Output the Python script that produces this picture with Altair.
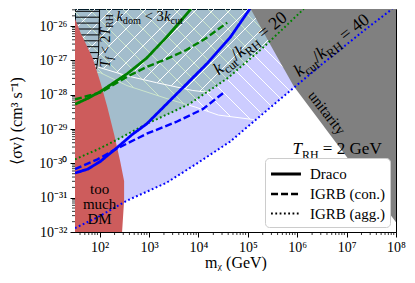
import numpy as np
import pandas as pd
import altair as alt

SERIF = "Liberation Serif"

# ---------------- values ----------------
KINDS = ["Draco", "IGRB (con.)", "IGRB (agg.)"]
CASES = ["20", "40"]          # k_cut / k_RH

# k_cut/k_RH = 20 (green)
m_draco20 = [31.6, 57.3, 104, 180, 358, 893, 2234, 4436, 7015]
s_draco20 = [5.28e-29, 7.85e-29, 1.245e-28, 2.11e-28, 4.08e-28, 1.17e-27, 4.68e-27, 1.435e-26, 3.16e-26]
m_con20 = [31.6, 104, 358, 893, 2234, 5572, 13930, 38190]
s_con20 = [7.35e-29, 1.164e-28, 3.35e-28, 6.47e-28, 1.096e-27, 1.986e-27, 4.38e-27, 1.26e-26]
m_agg20 = [31.6, 90.6, 226, 893, 6400, 39900, 217000, 1356000]
s_agg20 = [1.315e-30, 2.54e-30, 4.92e-30, 1.413e-29, 5.28e-29, 3.13e-28, 2.58e-27, 3.16e-26]

# k_cut/k_RH = 40 (blue)
m_draco40 = [31.6, 57.3, 104, 226, 450, 893, 3530, 15280, 43800, 109400]
s_draco40 = [5.22e-31, 6.81e-31, 1.153e-30, 2.90e-30, 6.84e-30, 1.413e-29, 1.021e-28, 8.43e-28, 4.68e-27, 3.16e-26]
m_con40 = [31.6, 90.6, 226, 893, 3530, 12160, 34800]
s_con40 = [6.81e-31, 1.315e-30, 2.72e-30, 7.31e-30, 1.61e-29, 3.80e-29, 1.245e-28]
m_agg40 = [31.6, 90.6, 358, 2234, 8830, 43750, 150700, 857000, 3.39e6, 2.11e7, 8.36e7]
s_agg40 = [1.30e-32, 2.69e-32, 8.25e-32, 2.70e-31, 9.46e-31, 4.31e-30, 1.96e-29, 1.62e-28, 8.43e-28, 6.95e-27, 3.16e-26]

# "too much DM" boundary
s_dm = [1.64e-26, 6.10e-27, 1.17e-27, 2.25e-28, 4.34e-29, 6.84e-30, 1.153e-30, 3.08e-31, 8.25e-32, 1e-32]
m_dm = [31.6, 41.6, 72.1, 104, 143, 197, 260, 312, 312, 284]

# unitarity boundary
m_unit = [114600, 313000, 857000, 5.86e6, 1e8]
s_unit = [3.16e-26, 2.26e-27, 1.73e-28, 4.31e-30, 1.93e-32]

# k_dom < 3 k_cut boundaries (20 and 40)
m_kdom20 = [31.6, 90.6, 358, 1413, 7690, 17500]
s_kdom20 = [9.61e-28, 6.47e-28, 3.57e-28, 2.25e-28, 1.33e-28, 1.164e-28]
m_kdom40 = [31.6, 104, 358, 2565, 8830, 25300, 150700]
s_kdom40 = [5.68e-28, 4.36e-28, 1.85e-28, 7.35e-29, 4.34e-29, 2.56e-29, 1.84e-29]

# T_f < 2 T_RH boundary
m_tf = [99.3, 99.3, 94.8, 86.5]
s_tf = [3.16e-26, 6.10e-27, 1.63e-27, 5.68e-28]

x_tick_exps = [2, 3, 4, 5, 6, 7, 8]
y_tick_exps = [-32, -31, -30, -29, -28, -27, -26]

# annotation anchors (mass, sigma v, angle)
ann = {
    "tf": (160, 3.7e-27, 270),
    "kdom": (1026, 1.45e-26, 0),
    "k20": (130000, 2.40e-27, 321),
    "k40": (5.8e6, 2.1e-27, 322),
    "unit": (4.0e6, 3.0e-29, 52),
    "dm": (99.3, 1.82e-31, 0),
    "trh": (6.43e6, 1.83e-30, 0),
}

# ---------------- geometry ----------------
W, H = 321, 223
LX0, LX1 = 1.5, 8.0
LY0, LY1 = -32.0, -25.5
SX = W / (LX1 - LX0)
SY = H / (LY1 - LY0)
M_MIN, S_TOP = 10 ** LX0, 10 ** LY1


def to_uv(m, s):
    return (np.log10(m) - LX0) * SX, (np.log10(s) - LY0) * SY


def to_ms(u, v):
    return 10 ** (LX0 + u / SX), 10 ** (LY0 + v / SY)


def curve_fn(ms, ss, right):
    u, v = to_uv(np.array(ms, float), np.array(ss, float))
    return lambda uu: np.interp(uu, u, v, right=right)


def diag_hatch(direction, spacing, lower_fns):
    u = np.arange(0, W + 0.25, 0.25)
    low = np.max([f(u) for f in lower_fns], axis=0)
    rows = []
    for c in np.arange(-W - 3, W + H, spacing):
        v = direction * u + c
        inside = (v >= low) & (v <= H) & (v >= 0)
        edges = np.flatnonzero(np.diff(np.concatenate([[0], inside.astype(int), [0]])))
        for a, b in zip(edges[::2], edges[1::2]):
            if b - 1 > a:
                m1, s1 = to_ms(u[a], v[a])
                m2, s2 = to_ms(u[b - 1], v[b - 1])
                rows.append(dict(m=m1, s=s1, m2=m2, s2=s2))
    return pd.DataFrame(rows)


fG = curve_fn(m_agg20, s_agg20, 1e9)
fB = curve_fn(m_agg40, s_agg40, 1e9)
fA20 = curve_fn(m_kdom20, s_kdom20, -1e9)
fA40 = curve_fn(m_kdom40, s_kdom40, -1e9)

hatch20 = diag_hatch(+1, 17, [fA20, fG])
hatch40 = diag_hatch(-1, 17, [fA40, fB])

# horizontal hatch of the T_f < 2T_RH region
ut, vt = to_uv(np.array(m_tf), np.array(s_tf))
order = np.argsort(vt)
rows = []
v = H - 2.3
while v >= vt.min():
    uk = np.interp(v, vt[order], ut[order])
    m2, s2 = to_ms(uk, v)
    rows.append(dict(m=M_MIN, s=s2, m2=m2, s2=s2))
    v -= 5.9
hatch_tf = pd.DataFrame(rows)

# ---------------- encodings ----------------
SUPS = str.maketrans("-0123456789", "⁻⁰¹²³⁴⁵⁶⁷⁸⁹")


def label_expr(exps):
    parts = [f"datum.value < {3 * 10.0 ** e:.3e} ? '10{str(e).translate(SUPS)}'" for e in exps]
    return " : ".join(parts) + " : ''"


common_axis = dict(grid=False, tickSize=5, tickWidth=1, tickColor="black", domainColor="black",
                   domainWidth=1, labelFont=SERIF, labelFontSize=14, labelColor="black",
                   labelFlush=False, labelOverlap=False, titleFont=SERIF, titleFontSize=16,
                   titleFontWeight="normal", titleColor="black")
xaxis = alt.Axis(values=[10.0 ** e for e in x_tick_exps], labelExpr=label_expr(x_tick_exps),
                 title="mᵪ (GeV)", labelPadding=3, titleY=35, titleBaseline="alphabetic",
                 **common_axis)
yaxis = alt.Axis(values=[10.0 ** e for e in y_tick_exps], labelExpr=label_expr(y_tick_exps),
                 title="⟨σv⟩ (cm³ s⁻¹)", labelPadding=3, titleX=-59, titleAngle=270,
                 titleBaseline="middle", **common_axis)
xscale = alt.Scale(type="log", domain=[M_MIN, 10 ** LX1], nice=False)
yscale = alt.Scale(type="log", domain=[10 ** LY0, S_TOP], nice=False)
X = alt.X("m:Q", scale=xscale, axis=xaxis)
Y = alt.Y("s:Q", scale=yscale, axis=yaxis)


def df_of(ms, ss):
    return pd.DataFrame({"m": ms, "s": ss, "top": S_TOP, "left": M_MIN})


layers = []
# lavender (k_cut/k_RH = 40 excluded) region
layers.append(alt.Chart(df_of(m_agg40, s_agg40)).mark_area(color="blue", opacity=0.2, clip=True)
              .encode(x=X, y=Y, y2="top:Q"))
layers.append(alt.Chart(hatch40).mark_rule(color="white", strokeWidth=1, clip=True)
              .encode(x=X, y=Y, x2="m2:Q", y2="s2:Q"))
layers.append(alt.Chart(df_of(m_kdom40, s_kdom40)).mark_line(color="white", strokeWidth=1, clip=True)
              .encode(x=X, y=Y))
# teal (k_cut/k_RH = 20 excluded) region
layers.append(alt.Chart(df_of(m_agg20, s_agg20)).mark_area(color="green", opacity=0.2, clip=True)
              .encode(x=X, y=Y, y2="top:Q"))
layers.append(alt.Chart(hatch20).mark_rule(color="white", strokeWidth=1, clip=True)
              .encode(x=X, y=Y, x2="m2:Q", y2="s2:Q"))
layers.append(alt.Chart(df_of(m_kdom20, s_kdom20)).mark_line(color="white", strokeWidth=1, clip=True)
              .encode(x=X, y=Y))
# T_f < 2 T_RH hatch
layers.append(alt.Chart(hatch_tf).mark_rule(color="black", strokeWidth=1, clip=True)
              .encode(x=X, y=Y, x2="m2:Q", y2="s2:Q"))
layers.append(alt.Chart(df_of(m_tf, s_tf)).mark_line(color="black", strokeWidth=1, clip=True)
              .encode(x=X, y=Y))
# unitarity
layers.append(alt.Chart(df_of(m_unit, s_unit)).mark_area(color="#808080", opacity=1, clip=True)
              .encode(x=X, y=Y, y2="top:Q"))
# too much DM
layers.append(alt.Chart(df_of(m_dm, s_dm)).mark_area(color="#cd5c5c", opacity=1, orient="horizontal", clip=True)
              .encode(x=X, x2="left:Q", y=Y))

# minor ticks
x_minor = [k * 10.0 ** d for d in range(1, 8) for k in range(2, 10) if M_MIN <= k * 10.0 ** d <= 10 ** LX1]
y_minor = [k * 10.0 ** d for d in range(-32, -25) for k in range(2, 10) if k * 10.0 ** d <= S_TOP]
layers.append(alt.Chart(pd.DataFrame({"m": x_minor})).mark_rule(color="black", strokeWidth=0.8)
              .encode(x=X, y=alt.value(H), y2=alt.value(H + 3)))
layers.append(alt.Chart(pd.DataFrame({"s": y_minor})).mark_rule(color="black", strokeWidth=0.8)
              .encode(y=Y, x=alt.value(0), x2=alt.value(-3)))

# limit curves
series = [("20", "Draco", m_draco20, s_draco20), ("20", "IGRB (con.)", m_con20, s_con20),
          ("20", "IGRB (agg.)", m_agg20, s_agg20), ("40", "Draco", m_draco40, s_draco40),
          ("40", "IGRB (con.)", m_con40, s_con40), ("40", "IGRB (agg.)", m_agg40, s_agg40)]
rows = []
for case, kind, ms, ss in series:
    for i, (m, s) in enumerate(zip(ms, ss)):
        rows.append(dict(m=m, s=s, case=case, kind=kind, i=i))
lines = pd.DataFrame(rows)
legend = alt.Legend(title=None, orient="none", legendX=190, legendY=149, direction="vertical",
                    fillColor="white", strokeColor="#cccccc", cornerRadius=4, padding=5,
                    symbolType="M-1.05,0H2.1", symbolSize=361, symbolStrokeColor="black",
                    symbolFillColor="transparent",
                    symbolStrokeWidth=1.8, labelFont=SERIF, labelFontSize=15, labelColor="black",
                    labelOffset=18, rowPadding=1)
layers.append(alt.Chart(lines).mark_line(clip=True).encode(
    x=X, y=Y,
    color=alt.Color("case:N", scale=alt.Scale(domain=CASES, range=["#008000", "#0000ff"]), legend=None),
    strokeDash=alt.StrokeDash("kind:N", scale=alt.Scale(domain=KINDS, range=[[1, 0], [7, 3], [1.8, 2.5]]),
                              legend=legend),
    strokeWidth=alt.StrokeWidth("kind:N", scale=alt.Scale(domain=KINDS, range=[2.8, 2.0, 2.0]), legend=None),
    order="i:Q"))

# ---------------- text ----------------
SUB = 0.7
W_REG = {' ': 0.25, '<': 0.564, '=': 0.564, '/': 0.278, 'c': 0.444, 'u': 0.5, 't': 0.278,
         'd': 0.5, 'o': 0.5, 'm': 0.778, 'e': 0.444, 'R': 0.667, 'H': 0.722, 'G': 0.722,
         'V': 0.722, 'T': 0.611}
W_IT = {'T': 0.556, 'k': 0.444, 'f': 0.278}


def piece_em(t, style):
    tbl = W_IT if 'i' in style else W_REG
    w = sum(tbl.get(ch, W_REG.get(ch, 0.5)) for ch in t)
    return w * (SUB if style.startswith('s') else 1.0)


def rich_text(key, pieces, length):
    m, s, angle = ann[key]
    ems = [piece_em(t, st) for t, st in pieces]
    size = length / sum(ems)
    df = pd.DataFrame({"m": [m], "s": [s]})
    out = []
    pos = -length / 2
    for (t, st), e in zip(pieces, ems):
        sub = st.startswith('s')
        fs = size * (SUB if sub else 1)
        lead = (len(t) - len(t.lstrip())) * W_REG[' '] * fs
        props = dict(text=t.strip(), font=SERIF, fontSize=fs, align="left", baseline="alphabetic",
                     color="black", dx=pos + lead)
        if 'i' in st:
            props["fontStyle"] = "italic"
        if sub:
            props["dy"] = 0.25 * size
        if angle:
            props["angle"] = angle
        out.append(alt.Chart(df).mark_text(**props).encode(x=X, y=Y))
        pos += e * size
    return out


K = 0.95
layers += rich_text("tf", [("T", 'i'), ("f", 'si'), (" < 2", 'r'), ("T", 'i'), ("RH", 's')], 56 * K)
layers += rich_text("kdom", [("k", 'i'), ("dom", 's'), (" < 3", 'r'), ("k", 'i'), ("cut", 's')], 70 * K)
layers += rich_text("k20", [("k", 'i'), ("cut", 's'), ("/", 'r'), ("k", 'i'), ("RH", 's'), (" = 20", 'r')], 94 * K)
layers += rich_text("k40", [("k", 'i'), ("cut", 's'), ("/", 'r'), ("k", 'i'), ("RH", 's'), (" = 40", 'r')], 95 * K)
layers += rich_text("trh", [("T", 'i'), ("RH", 's'), (" = 2 GeV", 'r')], 94 * K)

m, s, a = ann["unit"]
layers.append(alt.Chart(df_of([m], [s])).mark_text(text="unitarity", font=SERIF, fontSize=15, angle=a,
                                                    align="center", baseline="middle", color="black")
              .encode(x=X, y=Y))
m, s, a = ann["dm"]
layers.append(alt.Chart(df_of([m], [s])).mark_text(text=["too", "much", "DM"], font=SERIF, fontSize=15,
                                                    lineHeight=15, align="center", baseline="middle",
                                                    color="black")
              .encode(x=X, y=Y))

chart = alt.layer(*layers).properties(
    width=W, height=H,
    autosize=alt.AutoSizeParams(type="none"),
    padding={"left": 67, "top": 1, "right": 11, "bottom": 39},
    background="white",
).configure_view(stroke="black", strokeWidth=1)

chart.save("out.html", embed_options={"renderer": "svg", "actions": False})
